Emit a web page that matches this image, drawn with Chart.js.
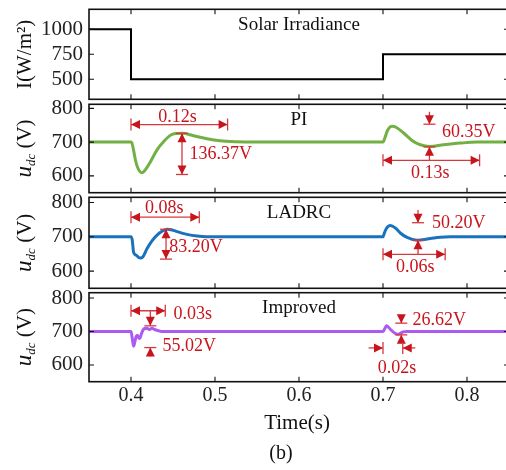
<!DOCTYPE html>
<html>
<head>
<meta charset="utf-8">
<script src="https://cdn.jsdelivr.net/npm/chart.js@4.4.1/dist/chart.umd.min.js"></script>
<style>
  html, body { margin: 0; padding: 0; background: #fff; overflow: hidden; }
  #wrap { position: relative; width: 506px; height: 470px; overflow: hidden; }
  #wrap canvas { position: absolute; left: 0; top: 0; }
</style>
</head>
<body>
<div id="wrap">
  <canvas id="c0" width="510" height="470"></canvas>
  <canvas id="c1" width="510" height="470"></canvas>
  <canvas id="c2" width="510" height="470"></canvas>
  <canvas id="c3" width="510" height="470"></canvas>
</div>
<script>
// shared axis ticks
const xTicks = [0.4, 0.5, 0.6, 0.7, 0.8];
const irrTicks = [500, 750, 1000];
const udcTicks = [600, 700, 800];

// solar irradiance (step profile)
const tIrr = [0.35, 0.4, 0.4, 0.7, 0.7, 0.85];
const irr = [1000, 1000, 500, 500, 750, 750];

// PI controller
const tPI = [0.35, 0.400, 0.401, 0.403, 0.405, 0.408, 0.413, 0.418, 0.423, 0.431, 0.439, 0.449, 0.461,
  0.4745, 0.4905, 0.506, 0.526, 0.545, 0.60, 0.65, 0.700, 0.7027, 0.7055, 0.7085, 0.7115, 0.7155, 0.7245,
  0.7345, 0.7444, 0.756, 0.772, 0.792, 0.812, 0.85];
const udcPI = [700, 700, 698, 677, 650, 624, 609, 621, 641, 677, 702, 723, 726,
  719, 710, 704, 701, 700, 700, 700, 700, 716, 735, 745, 747, 744, 727,
  705, 692, 687, 692, 697, 700, 700];

// LADRC
const tLADRC = [0.35, 0.400, 0.4015, 0.403, 0.405, 0.407, 0.409, 0.411, 0.414, 0.419, 0.425, 0.431, 0.437,
  0.443, 0.449, 0.455, 0.4667, 0.4786, 0.49, 0.60, 0.700, 0.7015, 0.704, 0.7087, 0.7146, 0.7206,
  0.7286, 0.7405, 0.7563, 0.768, 0.78, 0.85];
const udcLADRC = [700, 700, 690, 656, 648, 645, 640, 638, 641, 665, 688, 705, 716,
  722, 720, 715, 707, 702, 700, 700, 700, 710, 724, 733, 726, 711,
  698, 690, 695, 699, 700, 700];

// improved controller
const tImp = [0.35, 0.400, 0.4015, 0.403, 0.4045, 0.406, 0.4075, 0.409, 0.4105, 0.412, 0.414, 0.416,
  0.419, 0.422, 0.425, 0.428, 0.432, 0.436, 0.60, 0.700, 0.702, 0.704, 0.706, 0.709, 0.712, 0.715,
  0.718, 0.721, 0.724, 0.728, 0.85];
const udcImp = [700, 700, 680, 656, 668, 684, 689, 682, 679, 690, 703, 709,
  710, 706, 710, 706, 703, 700, 700, 700, 708, 717, 714, 706, 699, 694,
  692, 695, 699, 700, 700];

const FONT = 'Liberation Serif, Times New Roman, serif';
const RED = '#c8141c';
const RED_LINE = '#d6393d';

// annotations (in data units)
const annoPI = [
  { type: 'h', x1: 0.4, x2: 0.515, y: 752 },
  { type: 'text', x: 0.4555, y: 775, text: '0.12s', align: 'center' },
  { type: 'v', x: 0.4607, y1: 726, y2: 604 },
  { type: 'text', x: 0.4697, y: 664, text: '136.37V', align: 'left' },
  { type: 'to', x: 0.7553, from: 790, tip: 753 },
  { type: 'to', x: 0.7553, from: 646, tip: 686 },
  { type: 'text', x: 0.7702, y: 729, text: '60.35V', align: 'left' },
  { type: 'h', x1: 0.7, x2: 0.815, y: 646 },
  { type: 'text', x: 0.7563, y: 607, text: '0.13s', align: 'center' }
];
const annoLADRC = [
  { type: 'h', x1: 0.4, x2: 0.4813, y: 757 },
  { type: 'text', x: 0.4395, y: 784, text: '0.08s', align: 'center' },
  { type: 'v', x: 0.4417, y1: 722, y2: 635 },
  { type: 'text', x: 0.4455, y: 669, text: '83.20V', align: 'left' },
  { type: 'to', x: 0.7417, from: 778, tip: 741 },
  { type: 'to', x: 0.7417, from: 649, tip: 690 },
  { type: 'text', x: 0.7583, y: 740, text: '50.20V', align: 'left' },
  { type: 'h', x1: 0.7, x2: 0.774, y: 649 },
  { type: 'text', x: 0.7385, y: 611, text: '0.06s', align: 'center' }
];
const annoImp = [
  { type: 'h', x1: 0.4, x2: 0.4408, y: 762 },
  { type: 'text', x: 0.4507, y: 753, text: '0.03s', align: 'left' },
  { type: 'to', x: 0.423, from: 762, tip: 717 },
  { type: 'to', x: 0.423, from: 625, tip: 652 },
  { type: 'text', x: 0.4376, y: 655, text: '55.02V', align: 'left' },
  { type: 'to', x: 0.7218, from: 750, tip: 725 },
  { type: 'to', x: 0.7218, from: 665, tip: 690 },
  { type: 'text', x: 0.7352, y: 735, text: '26.62V', align: 'left' },
  { type: 'ray', x1: 0.6829, x2: 0.7, y: 651 },
  { type: 'ray', x1: 0.7385, x2: 0.7235, y: 651 },
  { type: 'text', x: 0.7167, y: 590, text: '0.02s', align: 'center' }
];

function drawAnno(chart, items) {
  const ctx = chart.ctx;
  const X = v => chart.scales.x.getPixelForValue(v);
  const Y = v => chart.scales.y.getPixelForValue(v);
  const seg = (x1, y1, x2, y2) => { ctx.beginPath(); ctx.moveTo(x1, y1); ctx.lineTo(x2, y2); ctx.stroke(); };
  const head = (x, y, dx, dy) => {
    const L = 9, W = 4.5;
    ctx.beginPath();
    ctx.moveTo(x, y);
    ctx.lineTo(x - dx * L - dy * W, y - dy * L + dx * W);
    ctx.lineTo(x - dx * L + dy * W, y - dy * L - dx * W);
    ctx.closePath();
    ctx.fill();
  };
  ctx.save();
  ctx.strokeStyle = RED_LINE;
  ctx.fillStyle = RED;
  ctx.lineWidth = 1.3;
  items.forEach(a => {
    if (a.type === 'h') {
      const x1 = X(a.x1), x2 = X(a.x2), y = Y(a.y);
      seg(x1, y, x2, y);
      head(x1, y, -1, 0); head(x2, y, 1, 0);
      seg(x1, y - 6, x1, y + 6); seg(x2, y - 6, x2, y + 6);
    } else if (a.type === 'v') {
      const x = X(a.x), y1 = Y(a.y1), y2 = Y(a.y2);
      seg(x, y1, x, y2);
      head(x, y1, 0, -1); head(x, y2, 0, 1);
      seg(x - 6, y1, x + 6, y1); seg(x - 6, y2, x + 6, y2);
    } else if (a.type === 'to') {
      const x = X(a.x), y1 = Y(a.from), y2 = Y(a.tip);
      seg(x, y1, x, y2);
      head(x, y2, 0, Math.sign(y2 - y1));
      seg(x - 6, y2, x + 6, y2);
    } else if (a.type === 'ray') {
      const x1 = X(a.x1), x2 = X(a.x2), y = Y(a.y);
      seg(x1, y, x2, y);
      head(x2, y, Math.sign(x2 - x1), 0);
      seg(x2, y - 6, x2, y + 6);
    } else if (a.type === 'text') {
      ctx.font = '18px ' + FONT;
      ctx.textAlign = a.align;
      ctx.textBaseline = 'middle';
      ctx.fillText(a.text, X(a.x), Y(a.y));
    }
  });
  ctx.restore();
}

function makePanel(cfg) {
  return {
    id: 'panel',
    afterDatasetsDraw(chart) {
      const ctx = chart.ctx;
      const { left, right, top, bottom } = chart.chartArea;
      ctx.save();
      // frame and inward ticks
      ctx.strokeStyle = '#111';
      ctx.lineWidth = 1.6;
      ctx.strokeRect(left, top, right - left, bottom - top);
      ctx.lineWidth = 1.1;
      xTicks.forEach(t => {
        const x = chart.scales.x.getPixelForValue(t);
        ctx.beginPath();
        ctx.moveTo(x, bottom); ctx.lineTo(x, bottom - 5);
        ctx.moveTo(x, top); ctx.lineTo(x, top + 5);
        ctx.stroke();
      });
      cfg.yTicks.forEach(v => {
        const y = chart.scales.y.getPixelForValue(v);
        ctx.beginPath();
        ctx.moveTo(left, y); ctx.lineTo(left + 5, y);
        ctx.moveTo(right, y); ctx.lineTo(right - 5, y);
        ctx.stroke();
      });
      // panel title
      ctx.fillStyle = '#111';
      ctx.font = '19px ' + FONT;
      ctx.textAlign = 'center';
      ctx.textBaseline = 'middle';
      ctx.fillText(cfg.title, (left + right) / 2, top + 15.5);
      // y axis title, rotated
      ctx.translate(24, (top + bottom) / 2);
      ctx.rotate(-Math.PI / 2);
      ctx.textBaseline = 'alphabetic';
      if (cfg.udc) {
        ctx.font = 'italic 23px ' + FONT;
        const wU = ctx.measureText('u').width;
        ctx.font = 'italic 13px ' + FONT;
        const wD = ctx.measureText('dc').width;
        ctx.font = '21px ' + FONT;
        const wV = ctx.measureText(' (V)').width;
        let s = -(wU + wD + wV) / 2;
        ctx.textAlign = 'left';
        ctx.font = 'italic 23px ' + FONT;
        ctx.fillText('u', s, 7);
        ctx.font = 'italic 13px ' + FONT;
        ctx.fillText('dc', s + wU, 11);
        ctx.font = '21px ' + FONT;
        ctx.fillText(' (V)', s + wU + wD, 7);
      } else {
        ctx.font = '21px ' + FONT;
        ctx.textAlign = 'center';
        ctx.fillText(cfg.ylabel, 0, 7);
      }
      ctx.restore();
      if (cfg.annos) drawAnno(chart, cfg.annos);
      if (cfg.last) {
        ctx.save();
        ctx.fillStyle = '#111';
        ctx.textAlign = 'center';
        ctx.textBaseline = 'alphabetic';
        ctx.font = '21px ' + FONT;
        ctx.fillText('Time(s)', (left + right) / 2 - 2, 429);
        ctx.font = '20px ' + FONT;
        ctx.fillText('(b)', 281, 458.5);
        ctx.restore();
      }
    }
  };
}

const panels = [
  { id: 'c0', top: 9.3, bottom: 99.3, min: 300, max: 1200, yTicks: irrTicks, t: tIrr, v: irr,
    color: '#000', width: 2, tension: false, title: 'Solar Irradiance', ylabel: 'I(W/m²)' },
  { id: 'c1', top: 104.3, bottom: 192.7, min: 550, max: 812, yTicks: udcTicks, t: tPI, v: udcPI,
    color: '#72b043', width: 3, tension: true, title: 'PI', udc: true, annos: annoPI },
  { id: 'c2', top: 197.3, bottom: 288.3, min: 550, max: 815, yTicks: udcTicks, t: tLADRC, v: udcLADRC,
    color: '#1a72bd', width: 3, tension: true, title: 'LADRC', udc: true, annos: annoLADRC },
  { id: 'c3', top: 292.7, bottom: 381.7, min: 550, max: 816, yTicks: udcTicks, t: tImp, v: udcImp,
    color: '#ac5bf2', width: 3, tension: true, title: 'Improved', udc: true, annos: annoImp, last: true }
];

panels.forEach(p => {
  const H = 470;
  new Chart(document.getElementById(p.id), {
    type: 'line',
    data: {
      datasets: [{
        data: p.t.map((t, i) => ({ x: t, y: p.v[i] })),
        borderColor: p.color,
        borderWidth: p.width,
        pointRadius: 0,
        fill: false,
        cubicInterpolationMode: p.tension ? 'monotone' : 'default',
        tension: 0
      }]
    },
    options: {
      responsive: false,
      animation: false,
      events: [],
      layout: { padding: { left: 0, right: 1, top: p.top, bottom: p.last ? 0 : H - p.bottom } },
      plugins: { legend: { display: false }, tooltip: { enabled: false } },
      scales: {
        x: {
          type: 'linear',
          min: 0.35,
          max: 0.85,
          display: !!p.last,
          afterBuildTicks: s => { s.ticks = xTicks.map(v => ({ value: v })); },
          afterFit: s => {
            s.height = p.last ? H - p.bottom : 0;
            s.paddingLeft = 0; s.paddingRight = 0;
          },
          grid: { display: false, drawTicks: false },
          border: { display: false },
          ticks: {
            padding: 2,
            color: '#222',
            font: { family: FONT, size: 20 },
            maxRotation: 0,
            callback: v => v.toFixed(1)
          }
        },
        y: {
          min: p.min,
          max: p.max,
          afterBuildTicks: s => { s.ticks = p.yTicks.map(v => ({ value: v })); },
          afterFit: s => {
            s.width = 89;
            s.paddingTop = 0; s.paddingBottom = 0;
          },
          grid: { display: false, drawTicks: false },
          border: { display: false },
          ticks: {
            padding: 6,
            color: '#222',
            font: { family: FONT, size: 21 },
            callback: v => String(v)
          }
        }
      }
    },
    plugins: [makePanel(p)]
  });
});
</script>
</body>
</html>
